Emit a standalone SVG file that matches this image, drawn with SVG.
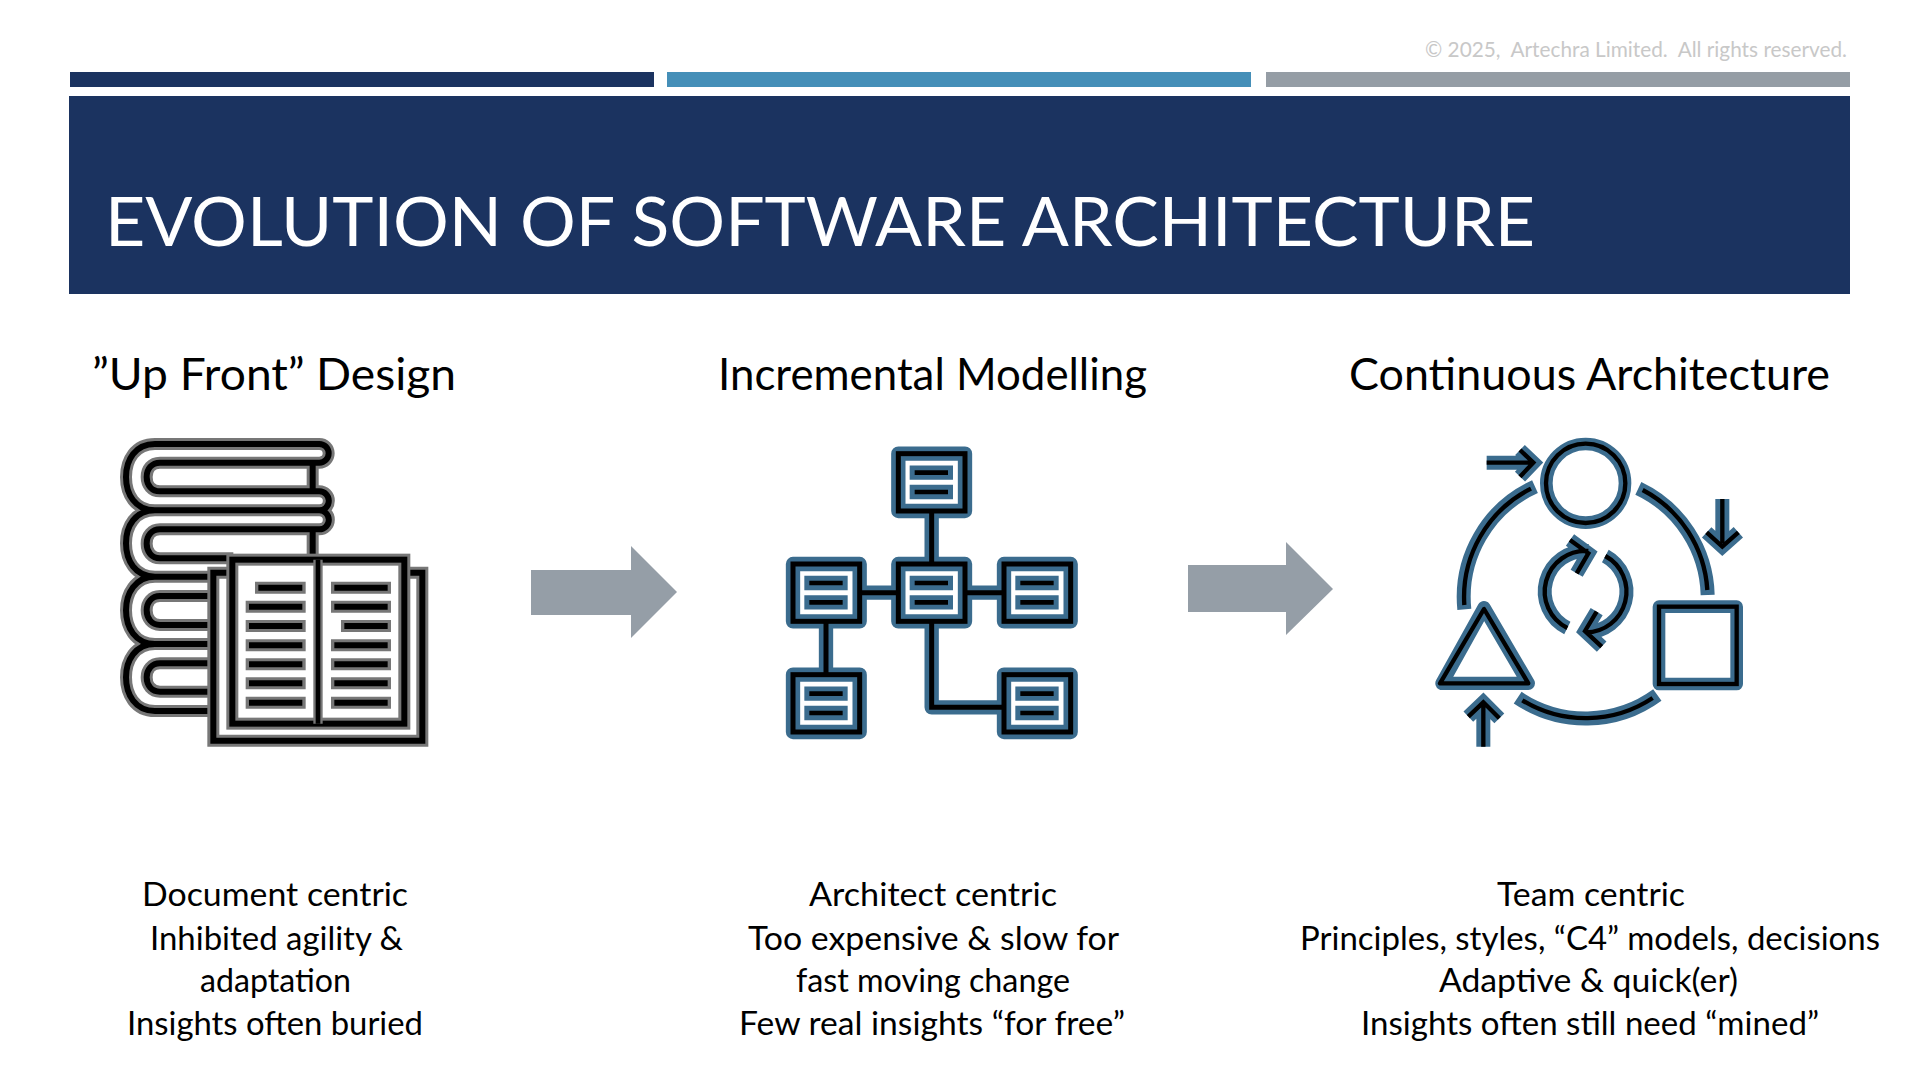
<svg xmlns="http://www.w3.org/2000/svg" xmlns:xlink="http://www.w3.org/1999/xlink" width="1920" height="1080" viewBox="0 0 1920 1080">
<style>
text{font-family:"Lato","Noto Sans","Liberation Sans",sans-serif}
.h{font-size:45px;fill:#000}
.b{font-size:32px;fill:#000}
.gr{fill:none;stroke:#777;stroke-width:36}
.bk{fill:none;stroke:#000;stroke-width:18}
.wf{fill:#fff}
.te{fill:none;stroke:#3b6c8e;stroke-width:43;stroke-linejoin:round}
.tw{fill:#fff;stroke:#3b6c8e;stroke-width:43;stroke-linejoin:round}
.tb{fill:none;stroke:#000;stroke-width:15}
.t3{fill:none;stroke:#3b6c8e;stroke-width:42}
.k3{fill:none;stroke:#000;stroke-width:13}
.ba{stroke:#3b6c8e;stroke-width:43;fill:none}
.bb{stroke:#000;stroke-width:14;fill:none}
</style>
<defs>
<path id="stack" d="M658 72H165C105 72 78 120 78 171C78 222 105 271 165 271H658A28.500 28.500 0 0 0 658 214H180C155 214 140 195 140 171C140 147 155 128 180 128H658A28 28 0 0 0 658 72M638 128V214M658 328A28.500 28.500 0 0 0 658 271M165 271C105 271 78 319 78 370C78 421 105 470 165 470H345M658 328H180C155 328 140 347 140 371C140 395 155 415 180 415H400M638 328V415M345 470H165C105 470 78 521 78 571C78 622 105 672 165 672H345M345 528H180C155 528 140 547 140 571C140 595 155 615 180 615H345M165 672C105 672 78 722 78 772C78 823 105 873 165 873H345M345 730H180C155 730 140 749 140 772C140 796 155 815 180 815H345"/>
<path id="outerbook" d="M395 458H340V962H967V458H915"/>
<rect id="innerbook" x="397" y="419" width="516" height="492"/>
<path id="spine" d="M654 419V911"/>
<g id="box">
<rect class="tw" x="-99" y="-86" width="200" height="172"/>
<rect class="tb" x="-99" y="-86" width="200" height="172"/>
<path class="ba" d="M-65 -29H65M-65 29H65"/>
<path class="bb" d="M-50 -29H50M-50 29H50"/>
</g>
<path id="tails" d="M200 113H340M300 75L340 113L300 155M907 222V355M860 322L907 365L955 322M190 965V832M145 875L190 832L238 880"/>
<path id="recyc" d="M442 609A122 122 0 0 1 505 378M450 345L505 385L470 445M556 393A122 122 0 0 1 497 622M530 560L495 618L545 665"/>
</defs>
<rect width="1920" height="1080" fill="#fff"/>

<g id="header">
<rect x="70" y="72" width="584" height="15" fill="#1b3360"/>
<rect x="667" y="72" width="584" height="15" fill="#458fb8"/>
<rect x="1266" y="72" width="584" height="15" fill="#959da5"/>
<rect x="69" y="96" width="1781" height="198" fill="#1b3360"/>
<text x="1425" y="57" font-size="22" fill="#c8c8c8" textLength="422" lengthAdjust="spacingAndGlyphs" xml:space="preserve">© 2025,  Artechra Limited.  All rights reserved.</text>
<text x="105" y="246" font-size="68" fill="#fff" textLength="1430" lengthAdjust="spacingAndGlyphs">EVOLUTION OF SOFTWARE ARCHITECTURE</text>
</g>

<g id="node-upfront">
<text class="h" x="92" y="390" textLength="364" lengthAdjust="spacingAndGlyphs">”Up Front” Design</text>
<g id="icon-books" transform="translate(100 420) scale(.33333)">
<use xlink:href="#stack" class="gr"/>
<use xlink:href="#stack" class="bk"/>
<use xlink:href="#outerbook" class="wf" style="stroke:#777;stroke-width:36"/>
<use xlink:href="#outerbook" class="bk"/>
<use xlink:href="#innerbook" class="wf" style="stroke:#777;stroke-width:36"/>
<use xlink:href="#innerbook" class="bk"/>
<use xlink:href="#spine" class="gr" style="stroke-width:28"/>
<use xlink:href="#spine" class="bk" style="stroke-width:14"/>
<path class="gr" d="M465 503H617M437 560H617M437 618H617M437 676H617M437 733H617M437 790H617M437 848H617M693 503H873M693 560H873M723 618H873M693 676H873M693 733H873M693 790H873M693 848H873"/>
<path class="bk" d="M475 503H607M447 560H607M447 618H607M447 676H607M447 733H607M447 790H607M447 848H607M703 503H863M703 560H863M733 618H863M703 676H863M703 733H863M703 790H863M703 848H863"/>
</g>
<text class="b" x="142" y="906" textLength="266" lengthAdjust="spacingAndGlyphs">Document centric</text>
<text class="b" x="150" y="950" textLength="253" lengthAdjust="spacingAndGlyphs">Inhibited agility &amp;</text>
<text class="b" x="200" y="992" textLength="151" lengthAdjust="spacingAndGlyphs">adaptation</text>
<text class="b" x="127" y="1035" textLength="296" lengthAdjust="spacingAndGlyphs">Insights often buried</text>
</g>

<g id="node-incremental">
<text class="h" x="718" y="390" textLength="429" lengthAdjust="spacingAndGlyphs">Incremental Modelling</text>
<g id="icon-network" transform="translate(770 430) scale(.33333)">
<path class="te" d="M485 157V488M168 488H802M168 488V820M485 488V832H802"/>
<use xlink:href="#box" x="484" y="157"/>
<use xlink:href="#box" x="168" y="488"/>
<use xlink:href="#box" x="484" y="488"/>
<use xlink:href="#box" x="801" y="488"/>
<use xlink:href="#box" x="168" y="820"/>
<use xlink:href="#box" x="801" y="820"/>
<path class="tb" d="M485 243V402M269 488H385M585 488H702M168 574V734M485 574V832H702"/>
</g>
<text class="b" x="809" y="906" textLength="248" lengthAdjust="spacingAndGlyphs">Architect centric</text>
<text class="b" x="748" y="950" textLength="371" lengthAdjust="spacingAndGlyphs">Too expensive &amp; slow for</text>
<text class="b" x="796" y="992" textLength="274" lengthAdjust="spacingAndGlyphs">fast moving change</text>
<text class="b" x="739" y="1035" textLength="386" lengthAdjust="spacingAndGlyphs">Few real insights “for free”</text>
</g>

<g id="node-continuous">
<text class="h" x="1349" y="390" textLength="481" lengthAdjust="spacingAndGlyphs">Continuous Architecture</text>
<g id="icon-cycle" transform="translate(1420 425) scale(.33333)">
<circle class="wf" cx="497" cy="175" r="118" stroke="#3b6c8e" stroke-width="38"/>
<circle class="k3" cx="497" cy="175" r="119"/>
<path class="t3" d="M133 553A364 364 0 0 1 345 185M655 190A364 364 0 0 1 863 510M293 818A364 364 0 0 0 712 810"/>
<path class="k3" d="M133 540A364 364 0 0 1 333 191M668 195A364 364 0 0 1 862 495M307 826A364 364 0 0 0 698 819"/>
<path class="wf" stroke="#3b6c8e" stroke-width="40" stroke-linejoin="round" d="M192 548L66 775H325Z"/>
<path class="k3" stroke-linejoin="round" d="M192 552L60 775H325Z"/>
<rect class="wf" x="717" y="545" width="233" height="232" stroke="#3b6c8e" stroke-width="38" stroke-linejoin="round"/>
<rect class="k3" x="717" y="545" width="233" height="232"/>
<use xlink:href="#tails" class="t3"/>
<use xlink:href="#tails" class="k3"/>
<use xlink:href="#recyc" class="t3"/>
<use xlink:href="#recyc" class="k3"/>
</g>
<text class="b" x="1497" y="906" textLength="188" lengthAdjust="spacingAndGlyphs">Team centric</text>
<text class="b" x="1300" y="950" textLength="580" lengthAdjust="spacingAndGlyphs">Principles, styles, “C4”  models, decisions</text>
<text class="b" x="1439" y="992" textLength="299" lengthAdjust="spacingAndGlyphs">Adaptive &amp; quick(er)</text>
<text class="b" x="1361" y="1035" textLength="458" lengthAdjust="spacingAndGlyphs">Insights often still need “mined”</text>
</g>

<g id="connectors" fill="#959ea7">
<polygon points="531,570 631,570 631,546 677,592 631,638 631,615 531,615"/>
<polygon points="1188,565 1286,565 1286,542 1333,589 1286,635 1286,612 1188,612"/>
</g>
</svg>
